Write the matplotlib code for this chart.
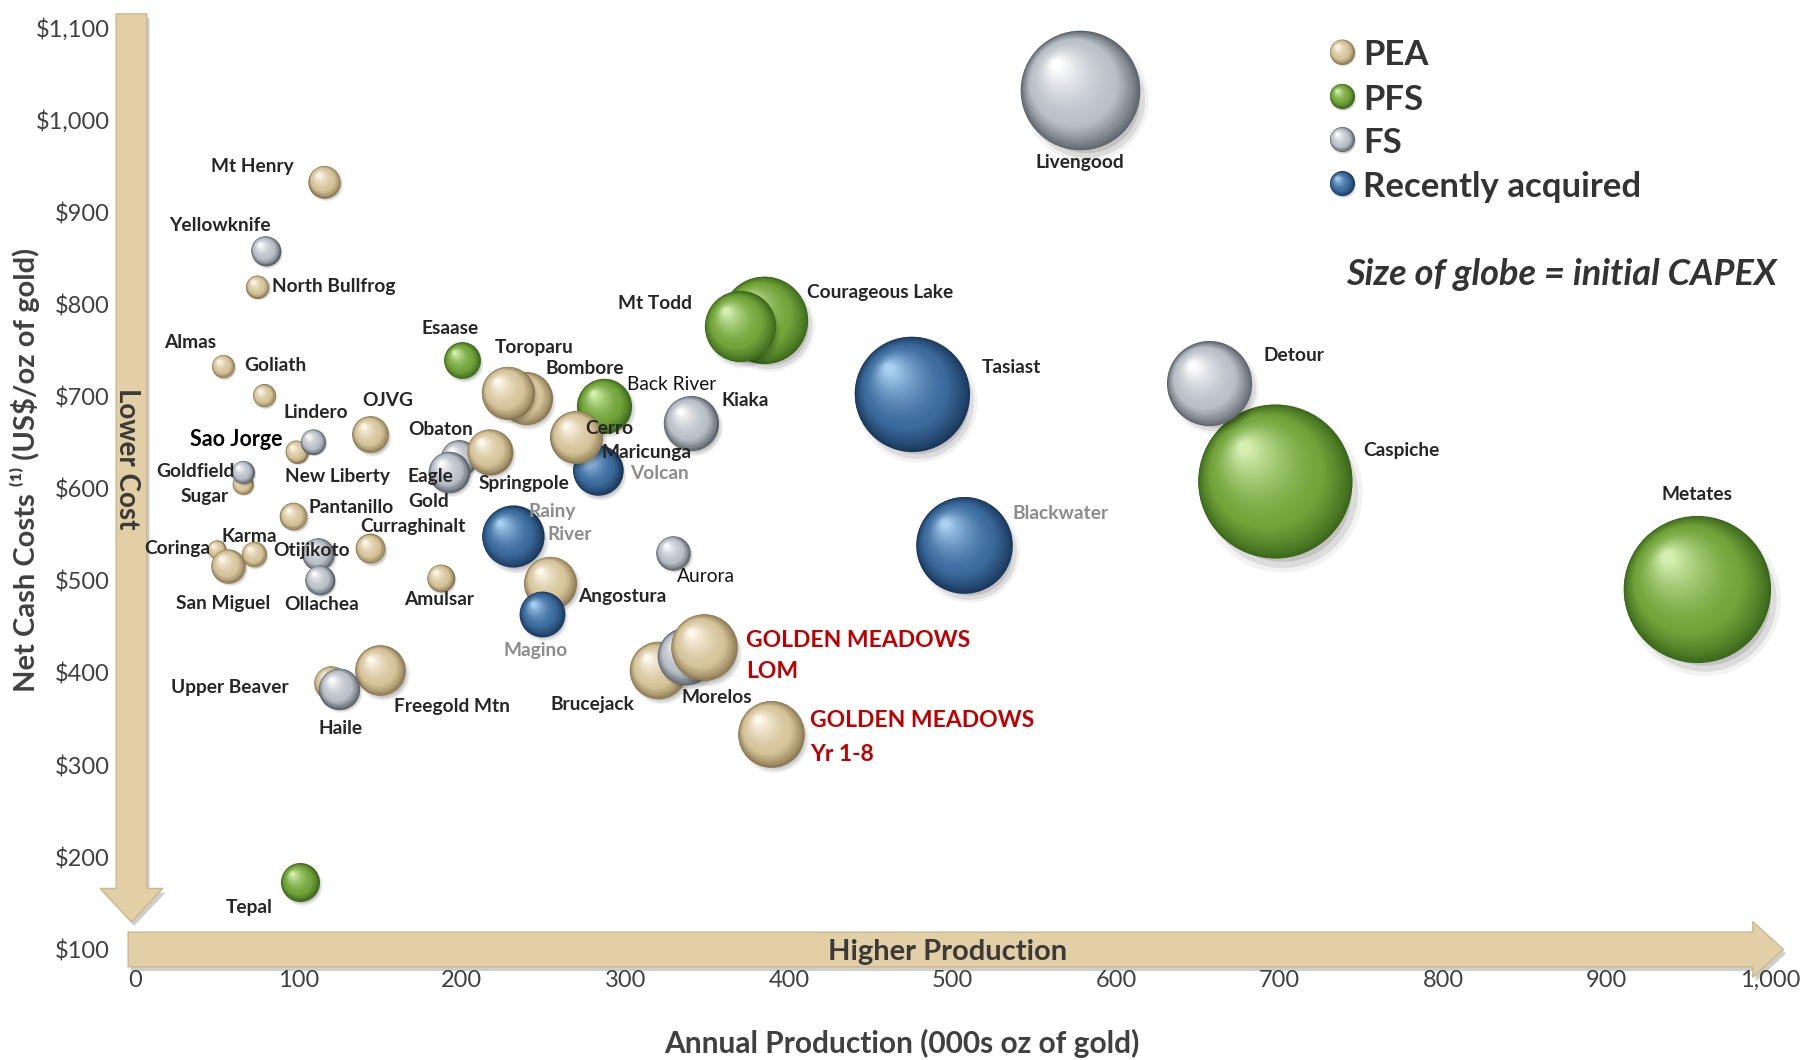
import matplotlib
matplotlib.use('Agg')
import matplotlib.pyplot as plt
import matplotlib.colors as mcolors
import matplotlib.patheffects as pe
from matplotlib.patches import FancyArrowPatch
from matplotlib.transforms import offset_copy
import numpy as np

plt.rcParams['font.family'] = ['Lato', 'DejaVu Sans']

# projects, listed back to front (drawing order)
names = ['Livengood', 'Caspiche', 'Metates', 'Detour', 'Tasiast', 'Blackwater',
         'Courageous Lake', 'Mt Todd', 'Kiaka', 'Back River', 'Maricunga', 'Cerro',
         'Bombore', 'Toroparu', 'Esaase', 'Obaton', 'Springpole', 'Eagle Gold',
         'Rainy River', 'Angostura', 'Magino', 'Aurora', 'Brucejack', 'Morelos',
         'GM LOM', 'GM Yr 1-8', 'Freegold Mtn', 'Upper Beaver', 'Haile', 'Mt Henry',
         'Yellowknife', 'North Bullfrog', 'Almas', 'Goliath', 'Sao Jorge', 'Lindero',
         'OJVG', 'Sugar', 'Goldfield', 'Pantanillo', 'Coringa', 'San Miguel', 'Karma',
         'Otijikoto', 'Ollachea', 'Curraghinalt', 'Amulsar', 'Tepal']
production = [578, 697, 955, 657, 475, 507,
              385, 370, 340, 287, 283, 270,
              239, 228, 200, 198, 217, 192,
              231, 254, 249, 329, 320, 337,
              348, 389, 150, 120, 125, 116,
              80, 75, 54, 79, 99, 109,
              144, 66, 66, 97, 50, 57, 73,
              112, 113, 144, 187, 101]
cash_cost = [1032, 608, 491, 714, 703, 539,
             783, 776, 671, 690, 620, 656,
             698, 704, 739, 633, 640, 618,
             548, 498, 464, 530, 403, 418,
             428, 334, 403, 389, 383, 933,
             858, 819, 733, 701, 640, 651,
             659, 605, 618, 570, 534, 516, 529,
             529, 501, 535, 503, 173]
capex = [2590, 4300, 3920, 1310, 2400, 1690,
         1380, 920, 550, 550, 460, 510,
         510, 510, 245, 245, 380, 310,
         700, 510, 380, 215, 600, 600,
         805, 805, 465, 215, 310, 190,
         160, 96, 96, 96, 96, 116,
         245, 78, 96, 138, 61, 215, 116,
         190, 160, 160, 138, 275]
stage = ['FS', 'PFS', 'PFS', 'FS', 'ACQ', 'ACQ',
         'PFS', 'PFS', 'FS', 'PFS', 'ACQ', 'PEA',
         'PEA', 'PEA', 'PFS', 'FS', 'PEA', 'FS',
         'ACQ', 'PEA', 'ACQ', 'FS', 'PEA', 'FS',
         'PEA', 'PEA', 'PEA', 'PEA', 'FS', 'PEA',
         'FS', 'PEA', 'PEA', 'PEA', 'PEA', 'FS',
         'PEA', 'PEA', 'FS', 'PEA', 'PEA', 'PEA', 'PEA',
         'FS', 'FS', 'PEA', 'PEA', 'PFS']

stage_labels = ['PEA', 'PFS', 'FS', 'Recently acquired']
stage_keys = ['PEA', 'PFS', 'FS', 'ACQ']
x_ticks = list(range(0, 1001, 100))
y_ticks = list(range(100, 1101, 100))

# sphere colours: rim, body, highlight
palette = {'PEA': ('#8a7750', '#d6c49a', '#fffaf0'),
           'PFS': ('#3a661a', '#72a43a', '#d4efb0'),
           'FS': ('#5a6169', '#b9c0c7', '#ffffff'),
           'ACQ': ('#19375a', '#3b6b9d', '#a9d0f2')}

# label placement (text, x, y, ha, style)
labels = [('Mt Henry', 72, 949, 'center', 'n'), ('Yellowknife', 52, 885, 'center', 'n'),
          ('North Bullfrog', 84, 819, 'left', 'n'), ('Almas', 34, 758, 'center', 'n'),
          ('Goliath', 67, 733, 'left', 'n'), ('Lindero', 111, 683, 'center', 'n'),
          ('OJVG', 155, 695, 'center', 'n'), ('Sao Jorge', 62, 653, 'center', 'b'),
          ('New Liberty', 124, 613, 'center', 'n'), ('Goldfield', 37, 618, 'center', 'n'),
          ('Sugar', 43, 591, 'center', 'n'), ('Pantanillo', 106, 579, 'left', 'n'),
          ('Karma', 70, 548, 'center', 'n'), ('Coringa', 26, 535, 'center', 'n'),
          ('Otijikoto', 108, 533, 'center', 'n'), ('Curraghinalt', 170, 559, 'center', 'n'),
          ('San Miguel', 54, 475, 'center', 'n'), ('Ollachea', 114, 474, 'center', 'n'),
          ('Amulsar', 186, 480, 'center', 'n'), ('Obaton', 187, 664, 'center', 'n'),
          ('Eagle', 167, 613, 'left', 'n'), ('Gold', 167, 586, 'left', 'n'),
          ('Springpole', 238, 606, 'center', 'n'), ('Esaase', 193, 774, 'center', 'n'),
          ('Toroparu', 244, 753, 'center', 'n'), ('Bombore', 275, 730, 'center', 'n'),
          ('Back River', 328, 713, 'center', 'l'), ('Kiaka', 359, 696, 'left', 'n'),
          ('Cerro', 290, 665, 'center', 'n'), ('Maricunga', 313, 639, 'center', 'n'),
          ('Volcan', 321, 616, 'center', 'g'), ('Rainy', 255, 575, 'center', 'g'),
          ('River', 266, 550, 'center', 'g'), ('Angostura', 298, 483, 'center', 'n'),
          ('Magino', 245, 424, 'center', 'g'), ('Aurora', 349, 505, 'center', 'l'),
          ('Upper Beaver', 58, 384, 'center', 'n'), ('Haile', 126, 340, 'center', 'n'),
          ('Freegold Mtn', 194, 364, 'center', 'n'), ('Brucejack', 280, 366, 'center', 'n'),
          ('Morelos', 356, 373, 'center', 'n'),
          ('GOLDEN MEADOWS', 374, 435, 'left', 'r'), ('LOM', 374, 401, 'left', 'r'),
          ('GOLDEN MEADOWS', 413, 348, 'left', 'r'), ('Yr 1-8', 413, 312, 'left', 'r'),
          ('Mt Todd', 318, 801, 'center', 'n'), ('Courageous Lake', 411, 813, 'left', 'n'),
          ('Tasiast', 518, 731, 'left', 'n'), ('Blackwater', 537, 573, 'left', 'g'),
          ('Livengood', 578, 954, 'center', 'n'), ('Detour', 690, 744, 'left', 'n'),
          ('Caspiche', 751, 641, 'left', 'n'), ('Metates', 955, 594, 'center', 'n'),
          ('Tepal', 70, 145, 'center', 'n')]
label_style = {'n': dict(color='#262626', fontsize=13.8, fontweight='bold'),
               'l': dict(color='#111111', fontsize=13.8, fontweight='normal'),
               'g': dict(color='#8c8c8c', fontsize=13.8, fontweight='bold'),
               'b': dict(color='#000000', fontsize=15.5, fontweight='bold'),
               'r': dict(color='#c00000', fontsize=16.5, fontweight='bold')}

fig = plt.figure(figsize=(18.06, 10.60), dpi=100)
ax = fig.add_axes([0.0746, 0.1043, 0.9056, 0.8696])
ax.set_xlim(0, 1000)
ax.set_ylim(100, 1100)
for s in ax.spines.values():
    s.set_visible(False)
ax.set_xticks(x_ticks)
ax.set_xticklabels([f'{v:,}' for v in x_ticks])
ax.set_yticks(y_ticks)
ax.set_yticklabels([f'${v:,}' for v in y_ticks])
ax.tick_params(length=0, labelsize=17, labelcolor='#404040')
ax.tick_params(axis='x', pad=15)
ax.tick_params(axis='y', pad=18)


def sphere(x, y, d, key, z, trans):
    rim, body, hi = [np.array(mcolors.to_rgb(c)) for c in palette[key]]
    sh = offset_copy(trans, fig, x=d * 0.05, y=-d * 0.07, units='points')
    for k, a in [(1.04, 0.05), (0.98, 0.09), (0.9, 0.11)]:
        ax.scatter([x], [y], s=(d * k) ** 2, color='k', alpha=a, lw=0,
                   zorder=z, transform=sh, clip_on=False)
    n = max(24, int(d * 0.8))
    for i in range(n):
        t = i / (n - 1)
        dd = d * (1 - 0.92 * t)
        if t < 0.3:
            c = rim + (body - rim) * (t / 0.3) ** 0.8
        else:
            c = body + (hi - body) * ((t - 0.3) / 0.7) ** 1.5
        tr = offset_copy(trans, fig, x=-0.2 * d * t, y=0.22 * d * t, units='points')
        ax.scatter([x], [y], s=dd ** 2, color=c, lw=0, zorder=z + 0.004 * (i + 1),
                   transform=tr, clip_on=False)


# bubble diameter in points, area proportional to capex
diam = 111 * np.sqrt(np.array(capex) / max(capex))
for i in range(len(names)):
    sphere(production[i], cash_cost[i], diam[i], stage[i], 3 + i * 0.5, ax.transData)

for txt, lx, ly, ha, st in labels:
    ax.text(lx, ly, txt, ha=ha, va='center', zorder=60, **label_style[st])

# axis arrows
shadow = [pe.SimplePatchShadow(offset=(2, -3), alpha=0.25), pe.Normal()]
va = FancyArrowPatch((-2, 1115), (-2, 130), mutation_scale=1, shrinkA=0, shrinkB=0,
                     arrowstyle='simple,head_width=45,head_length=24,tail_width=22',
                     fc='#e2cfa5', ec='#cbb88f', lw=1, clip_on=False, zorder=2,
                     path_effects=shadow)
ax.add_patch(va)
ha_ = FancyArrowPatch((-4, 100), (1008, 100), mutation_scale=1, shrinkA=0, shrinkB=0,
                      arrowstyle='simple,head_width=40,head_length=22,tail_width=25',
                      fc='#e2cfa5', ec='#cbb88f', lw=1, clip_on=False, zorder=2,
                      path_effects=shadow)
ax.add_patch(ha_)
ax.text(-5, 632, 'Lower Cost', rotation=270, ha='center', va='center', fontsize=20,
        fontweight='bold', color='#3a3a3a', zorder=4)
ax.text(497, 97, 'Higher Production', ha='center', va='center', fontsize=21,
        fontweight='bold', color='#3a3a3a', zorder=4)

# legend
leg_y = [0.974, 0.926, 0.879, 0.831]
for k, lab, ly in zip(stage_keys, stage_labels, leg_y):
    sphere(0.738, ly, 18, k, 70, ax.transAxes)
    ax.text(0.751, ly - 0.004, lab, transform=ax.transAxes, ha='left', va='center',
            fontsize=25, fontweight='bold', color='#333333', zorder=75)
ax.text(1.004, 0.7325, 'Size of globe = initial CAPEX', transform=ax.transAxes,
        ha='right', va='center', fontsize=26, fontweight='bold', style='italic',
        color='#333333', zorder=75)

fig.text(0.014, 0.5565, 'Net Cash Costs \u207d\u00b9\u207e (US$/oz of gold)', rotation=90,
         ha='center', va='center', fontsize=21, fontweight='bold', color='#404040')
fig.text(0.4994, 0.0152, 'Annual Production (000s oz of gold)', ha='center', va='center',
         fontsize=21.5, fontweight='bold', color='#404040')

fig.savefig('out.png', dpi=100)
